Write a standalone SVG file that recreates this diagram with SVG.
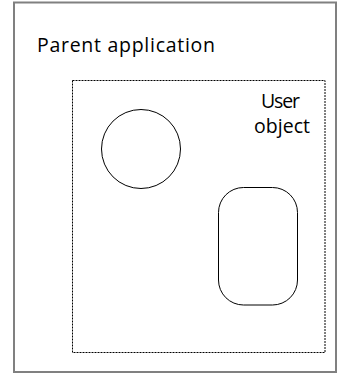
<svg xmlns="http://www.w3.org/2000/svg" width="337" height="373" viewBox="0 0 337 373">
  <style>
    .label { font-family: "Open Sans", "Liberation Sans", sans-serif; font-size: 19.5px; fill: #000; }
    .shape { fill: none; stroke: #000; stroke-width: 1; }
  </style>
  <rect width="337" height="373" fill="#fff"/>
  <g id="parent-application">
    <rect x="14" y="2.5" width="322" height="369.5" fill="none" stroke="#808080" stroke-width="2"/>
    <text class="label" x="37" y="52" textLength="178" lengthAdjust="spacing">Parent application</text>
  </g>
  <g id="user-object">
    <rect x="72.5" y="80.5" width="252.5" height="272" fill="none" stroke="#000" stroke-width="1" stroke-dasharray="2 1"/>
    <text class="label" x="261" y="108" textLength="39" lengthAdjust="spacing">User</text>
    <text class="label" x="254" y="133" textLength="56" lengthAdjust="spacing">object</text>
  </g>
  <g id="circle-control">
    <circle class="shape" cx="141" cy="149" r="39.5"/>
  </g>
  <g id="rounded-control">
    <rect class="shape" x="218.5" y="187.5" width="79" height="117.5" rx="25" ry="25"/>
  </g>
  <g id="connectors"></g>
</svg>
